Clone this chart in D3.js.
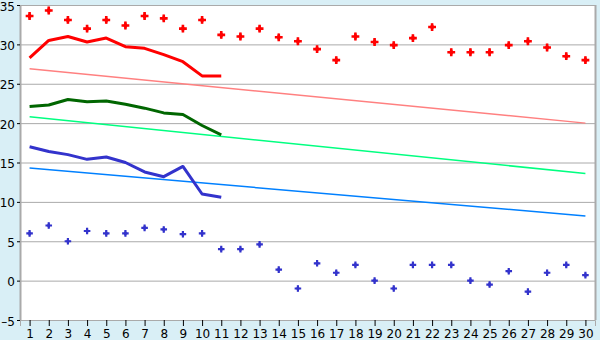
<!DOCTYPE html>
<html>
<head>
<meta charset="utf-8">
<script src="https://cdn.jsdelivr.net/npm/d3@7"></script>
<style>
html,body{margin:0;padding:0;background:#d9eff6;}
svg{display:block;}
text{font-family:"DejaVu Sans",Verdana,sans-serif;font-size:12px;fill:#000;}
</style>
</head>
<body>
<svg id="chart" width="600" height="340"></svg>
<script>
const days = d3.range(1, 31);
const yTicks = [-5, 0, 5, 10, 15, 20, 25, 30, 35];

const highMarks = [33.6,34.3,33.1,32.0,33.1,32.4,33.6,33.3,32.0,33.1,31.2,31.0,32.0,30.9,30.4,29.4,28.0,31.0,30.3,29.9,30.8,32.2,29.0,29.0,29.0,29.9,30.4,29.6,28.5,28.0];
const lowMarks = [6.0,7.0,5.0,6.3,6.0,6.0,6.7,6.5,5.9,6.0,4.0,4.0,4.6,1.4,-1.0,2.2,1.0,2.0,0.0,-1.0,2.0,2.0,2.0,0.0,-0.5,1.2,-1.4,1.0,2.0,0.7];

const highLine = [28.3,30.5,31.0,30.3,30.8,29.7,29.5,28.7,27.8,26.0,26.0];
const meanLine = [22.1,22.3,23.0,22.7,22.8,22.4,21.9,21.3,21.1,19.7,18.5];
const lowLine = [17.0,16.4,16.0,15.4,15.7,15.0,13.8,13.2,14.5,11.0,10.6];

const trendDays = [1, 30];
const highTrend = [26.9, 20.0];
const meanTrend = [20.8, 13.6];
const lowTrend = [14.3, 8.2];

const svg = d3.select("#chart");
const mLeft = 20, mRight = 595, mTop = 5, mBottom = 320;

const x = d3.scalePoint().domain(days).range([mLeft, mRight]).padding(0.5);
const y = d3.scaleLinear().domain([-5, 35]).range([mBottom, mTop]);

svg.append("rect").attr("x", mLeft).attr("y", mTop).attr("width", mRight - mLeft).attr("height", mBottom - mTop).attr("fill", "#fff");

// gridlines
svg.append("g").selectAll("line").data(yTicks).join("line")
  .attr("x1", mLeft).attr("x2", mRight)
  .attr("y1", d => y(d) + 0.5).attr("y2", d => y(d) + 0.5)
  .attr("stroke", "#aaaaaa").attr("stroke-width", 1);

// borders
svg.append("line").attr("x1", mRight + 0.5).attr("x2", mRight + 0.5).attr("y1", mTop).attr("y2", mBottom).attr("stroke", "#aaaaaa").attr("stroke-width", 2);
svg.append("line").attr("x1", mLeft + 0.5).attr("x2", mLeft + 0.5).attr("y1", mTop).attr("y2", mBottom + 1).attr("stroke", "#aaaaaa").attr("stroke-width", 2);

// axes
const yAxis = d3.axisLeft(y).tickValues(yTicks).tickSize(3).tickPadding(2).tickFormat(d => d < 0 ? "\u2013" + Math.abs(d) : d);
const gy = svg.append("g").attr("transform", `translate(${mLeft},0)`).call(yAxis);
gy.select(".domain").remove();
gy.selectAll(".tick line").attr("stroke", "#000");
gy.selectAll(".tick text").attr("dy", "0.42em");

const xAxis = d3.axisBottom(x).tickSize(6).tickPadding(3);
const gx = svg.append("g").attr("transform", `translate(0,${mBottom})`).call(xAxis);
gx.select(".domain").attr("stroke", "#aaaaaa").attr("stroke-width", 1);
gx.selectAll(".tick line").attr("stroke", "#000");

// trend lines
const tline = d3.line().x((d, i) => x(trendDays[i])).y(d => y(d));
[[highTrend, "#ff8080"], [meanTrend, "#00ff80"], [lowTrend, "#0080ff"]].forEach(([data, c]) => {
  svg.append("path").datum(data).attr("d", tline).attr("fill", "none").attr("stroke", c).attr("stroke-width", 1.5);
});

// thick lines
const line = d3.line().x((d, i) => x(days[i])).y(d => y(d));
[[highLine, "#ff0000"], [meanLine, "#006600"], [lowLine, "#3333cc"]].forEach(([data, c]) => {
  svg.append("path").datum(data).attr("d", line).attr("fill", "none").attr("stroke", c).attr("stroke-width", 3).attr("stroke-linejoin", "round");
});

// markers (cross with diamond core)
function markers(data, color, crossSize, diamondSize) {
  const g = svg.append("g");
  g.selectAll("path.c").data(data).join("path").attr("class", "c")
    .attr("transform", (d, i) => `translate(${x(days[i])},${y(d)})`)
    .attr("d", d3.symbol().type(d3.symbolCross).size(crossSize)).attr("fill", color);
  g.selectAll("path.d").data(data).join("path").attr("class", "d")
    .attr("transform", (d, i) => `translate(${x(days[i])},${y(d)})`)
    .attr("d", d3.symbol().type(d3.symbolDiamond).size(diamondSize)).attr("fill", color);
}
markers(highMarks, "#ff0000", 34, 18);
markers(lowMarks, "#3333cc", 24, 12);
</script>
</body>
</html>
